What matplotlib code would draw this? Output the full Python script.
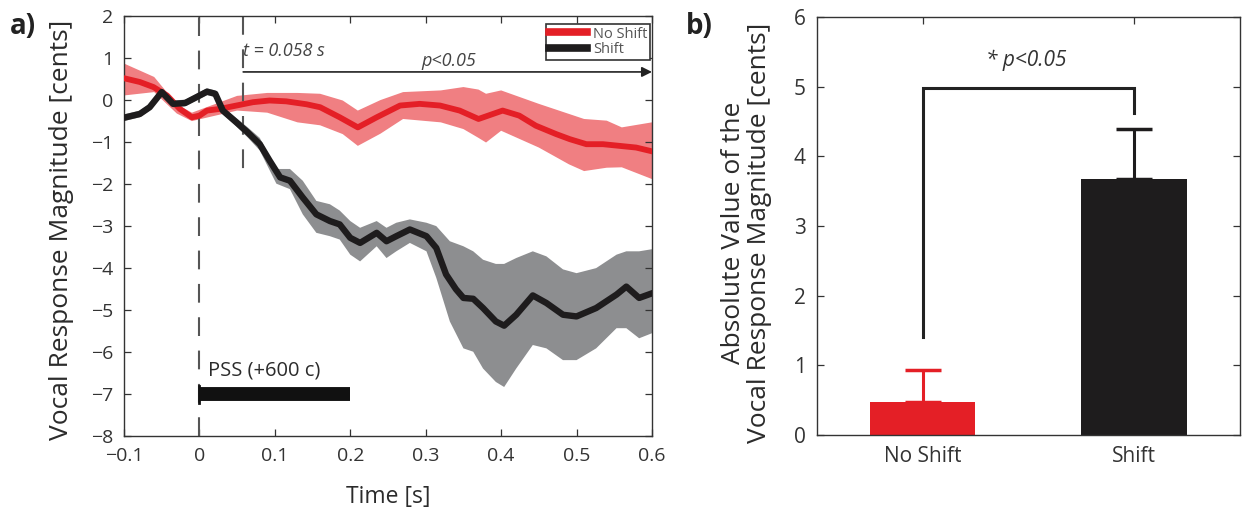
import numpy as np
import matplotlib
matplotlib.use("Agg")
import matplotlib.pyplot as plt

plt.rcParams['font.family'] = ['Open Sans', 'DejaVu Sans']
plt.rcParams['axes.unicode_minus'] = True

# ---- panel a: mean traces ----
t_red = [-0.1, -0.079, -0.061, -0.043, -0.026, -0.01, 0.0, 0.01, 0.027, 0.049, 0.071,
         0.093, 0.115, 0.142, 0.16, 0.186, 0.21, 0.235, 0.266, 0.292, 0.319, 0.345,
         0.37, 0.402, 0.424, 0.446, 0.473, 0.491, 0.513, 0.535, 0.557, 0.579, 0.6]
m_red = [0.52, 0.43, 0.31, 0.11, -0.21, -0.41, -0.37, -0.25, -0.21, -0.13, -0.05,
         -0.01, -0.03, -0.1, -0.17, -0.41, -0.65, -0.41, -0.13, -0.09, -0.13, -0.25,
         -0.45, -0.25, -0.37, -0.61, -0.81, -0.93, -1.05, -1.05, -1.09, -1.13, -1.22]

t_blk = [-0.1, -0.079, -0.066, -0.05, -0.035, -0.019, -0.006, 0.01, 0.021, 0.031, 0.049,
         0.064, 0.08, 0.093, 0.107, 0.12, 0.137, 0.155, 0.173, 0.186, 0.2, 0.213, 0.235,
         0.248, 0.261, 0.279, 0.301, 0.314, 0.327, 0.34, 0.35, 0.363, 0.376, 0.393, 0.404,
         0.42, 0.442, 0.46, 0.482, 0.5, 0.526, 0.553, 0.566, 0.583, 0.6]
m_blk = [-0.42, -0.33, -0.17, 0.19, -0.09, -0.07, 0.05, 0.2, 0.15, -0.25, -0.53,
         -0.77, -1.05, -1.44, -1.84, -1.92, -2.32, -2.72, -2.88, -2.96, -3.28, -3.40, -3.16,
         -3.36, -3.24, -3.08, -3.24, -3.52, -4.15, -4.5, -4.71, -4.73, -4.95, -5.27, -5.37,
         -5.11, -4.65, -4.83, -5.11, -5.15, -4.95, -4.63, -4.44, -4.71, -4.6]

# ---- panel a: shaded error bands ----
tb_red = [-0.1, -0.06, -0.03, -0.01, 0.05, 0.09, 0.13, 0.16, 0.19, 0.21, 0.24, 0.27,
          0.32, 0.35, 0.37, 0.38, 0.40, 0.45, 0.49, 0.51, 0.54, 0.56, 0.6]
hi_red = [0.87, 0.55, -0.1, -0.3, 0.1, 0.17, 0.17, 0.15, -0.01, -0.25, 0.0, 0.19,
          0.23, 0.31, 0.25, 0.15, 0.23, -0.09, -0.33, -0.45, -0.49, -0.65, -0.53]
lo_red = [0.11, 0.19, -0.32, -0.5, -0.25, -0.3, -0.53, -0.6, -0.81, -1.09, -0.8, -0.45,
          -0.53, -0.69, -0.9, -1.01, -0.73, -1.13, -1.53, -1.69, -1.61, -1.6, -1.88]

tb_blk = [-0.1, -0.079, -0.066, -0.05, -0.035, -0.019, -0.006, 0.01, 0.021, 0.031, 0.049,
          0.064, 0.08, 0.102, 0.12, 0.137, 0.155, 0.173, 0.186, 0.2,
          0.213, 0.235, 0.248, 0.261, 0.279, 0.301, 0.314, 0.332, 0.35, 0.363, 0.376,
          0.393, 0.404, 0.42, 0.442, 0.46, 0.482, 0.5, 0.526, 0.553, 0.566, 0.583, 0.6]
hi_blk = [-0.34, -0.25, -0.09, 0.27, -0.01, 0.01, 0.13, 0.28, 0.23, -0.17, -0.43,
          -0.65, -0.9, -1.64, -1.64, -1.92, -2.4, -2.48, -2.63, -2.88,
          -3.04, -2.88, -3.04, -2.92, -2.84, -2.92, -3.0, -3.36, -3.48, -3.6, -3.8,
          -3.9, -3.9, -3.76, -3.6, -3.72, -4.03, -4.12, -4.0, -3.68, -3.6, -3.6, -3.55]
lo_blk = [-0.5, -0.41, -0.25, 0.11, -0.17, -0.15, -0.03, 0.12, 0.07, -0.33, -0.63,
          -0.89, -1.2, -1.99, -2.12, -2.72, -3.16, -3.24, -3.32, -3.68,
          -3.84, -3.48, -3.76, -3.6, -3.4, -3.6, -4.23, -5.27, -5.91, -5.99, -6.39,
          -6.71, -6.83, -6.39, -5.83, -5.91, -6.19, -6.19, -5.91, -5.43, -5.43, -5.67, -5.55]

t_onset = 0.058        # significance onset
pss_span = (0.0, 0.2)  # pitch shift stimulus
pss_level = -7.0

# ---- panel b: bars ----
conds = ['No Shift', 'Shift']
bar_vals = [0.48, 3.68]
bar_err = [0.45, 0.72]
bracket = [1.41, 4.98, 4.63]   # left foot, top, right foot

RED, RED_BAND = '#e41f26', '#f07f82'
BLK, GRAY = '#1e1c1d', '#8d8e90'
TXT = '#2b2b2b'

fig = plt.figure(figsize=(12.49, 5.18), dpi=100)
ax = fig.add_axes([0.0993, 0.158, 0.4227, 0.811])
bx = fig.add_axes([0.654, 0.160, 0.3387, 0.807])

def fill_band(a, t, lo, hi, color):
    t, lo, hi = map(np.asarray, (t, lo, hi))
    a.fill(np.r_[t, t[::-1]], np.r_[hi, lo[::-1]], color=color, lw=0, zorder=1)

fill_band(ax, tb_red, lo_red, hi_red, RED_BAND)
fill_band(ax, tb_blk, lo_blk, hi_blk, GRAY)
ax.plot(t_red, m_red, color=RED, lw=4.2, zorder=3, label='No Shift', solid_joinstyle='round')
ax.plot(t_blk, m_blk, color=BLK, lw=4.6, zorder=4, label='Shift', solid_joinstyle='round')

ax.axvline(0, color='#555555', lw=1.5, ls=(0, (9, 7)), zorder=2)
ax.plot([t_onset, t_onset], [2, -1.85], color='#555555', lw=1.5, ls=(0, (9, 7)), zorder=2)

# significance arrow
ax.annotate('', xy=(0.6, 0.67), xytext=(t_onset, 0.67),
            arrowprops=dict(arrowstyle='-|>', color='#222222', lw=1.2, mutation_scale=15,
                            shrinkA=0, shrinkB=0))
ax.text(0.33, 0.8, 'p<0.05', style='italic', fontsize=13, color='#444444', ha='center')
ax.text(t_onset, 1.05, 't = 0.058 s', style='italic', fontsize=13, color='#444444', ha='left')

# PSS bar
ax.plot(pss_span, [pss_level, pss_level], color='#111111', lw=10, solid_capstyle='butt', zorder=3)
ax.plot([0, 0], [pss_level - 0.2, pss_level + 0.2], color='#111111', lw=2, zorder=3)
ax.text(0.012, -6.55, 'PSS (+600 c)', fontsize=14.5, color=TXT, ha='left', va='baseline')

ax.set_xlim(-0.1, 0.6)
ax.set_ylim(-8, 2)
ax.set_xticks(np.arange(-0.1, 0.61, 0.1))
ax.set_xticklabels(['−0.1', '0', '0.1', '0.2', '0.3', '0.4', '0.5', '0.6'])
ax.set_yticks(range(-8, 3))
ax.set_xlabel('Time [s]', fontsize=16.5, color=TXT, labelpad=14)
ax.set_ylabel('Vocal Response Magnitude [cents]', fontsize=19, color=TXT)
ax.yaxis.set_label_coords(-0.094, 0.49)

leg = ax.legend(loc='upper right', bbox_to_anchor=(0.997, 0.982), borderaxespad=0,
                fontsize=10.5, fancybox=False, framealpha=1, edgecolor='#333333',
                handlelength=2.6, handletextpad=0.4, labelspacing=0.05, borderpad=0.2)
for h in leg.get_lines():
    h.set_linewidth(5.5)
for txt in leg.get_texts():
    txt.set_color('#555555')
leg.get_frame().set_linewidth(1.2)

# ---- panel b ----
xs = np.arange(1, len(conds) + 1)
bx.bar(xs, bar_vals, width=0.5, color=[RED, BLK], zorder=2)
for x, v, e, c in zip(xs, bar_vals, bar_err, [RED, BLK]):
    bx.errorbar(x, v, yerr=[[0], [e]], color=c, lw=2.2, capsize=13, capthick=2.5, zorder=1)
bx.plot([1, 1, 2, 2], [bracket[0], bracket[1], bracket[1], bracket[2]],
        color='#222222', lw=2.2, solid_joinstyle='miter')
bx.text(1.49, 5.3, '* p<0.05', style='italic', fontsize=15, color='#333333', ha='center')

bx.set_xlim(0.5, 2.5)
bx.set_ylim(0, 6)
bx.set_xticks(xs)
bx.set_xticklabels(conds)
bx.set_ylabel('Absolute Value of the\nVocal Response Magnitude [cents]',
              fontsize=19, color=TXT, linespacing=1.1)
bx.yaxis.set_label_coords(-0.105, 0.483)

for a, fs in ((ax, 14), (bx, 15)):
    a.tick_params(direction='in', top=True, right=True, length=5, width=0.9,
                  labelsize=fs, colors='#333333', pad=8)
    for s in a.spines.values():
        s.set_linewidth(1)
        s.set_color('#333333')

fig.text(0.008, 0.948, 'a)', fontsize=20, fontweight='bold', color='#222222', va='center')
fig.text(0.549, 0.948, 'b)', fontsize=20, fontweight='bold', color='#222222', va='center')

fig.savefig('out.png', dpi=100)
